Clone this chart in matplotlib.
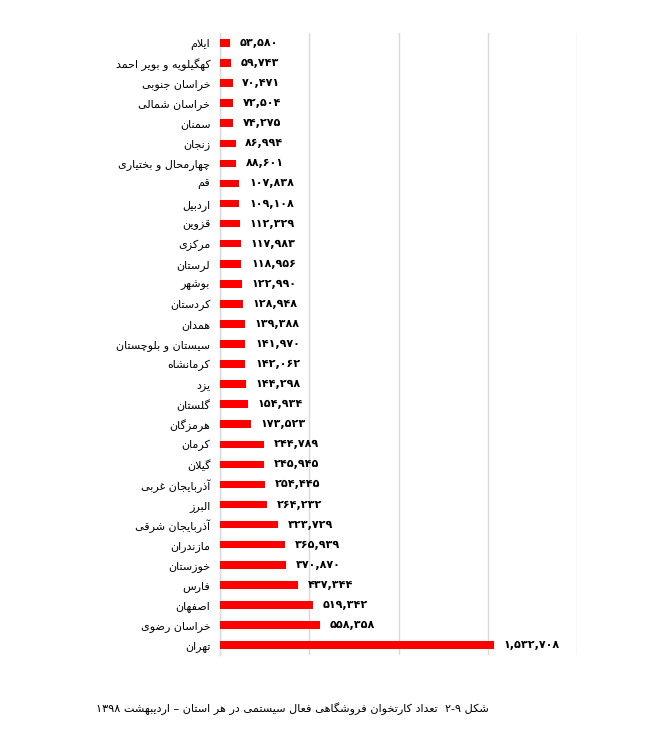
import matplotlib
matplotlib.use("Agg")
import matplotlib.pyplot as plt

provinces = [
    "ایلام", "کهگیلویه و بویر احمد", "خراسان جنوبی", "خراسان شمالی", "سمنان",
    "زنجان", "چهارمحال و بختیاری", "قم", "اردبیل", "قزوین", "مرکزی", "لرستان",
    "بوشهر", "کردستان", "همدان", "سیستان و بلوچستان", "کرمانشاه", "یزد",
    "گلستان", "هرمزگان", "کرمان", "گیلان", "آذربایجان غربی", "البرز",
    "آذربایجان شرقی", "مازندران", "خوزستان", "فارس", "اصفهان", "خراسان رضوی",
    "تهران",
]
values = [
    53580, 59743, 70471, 72504, 74275, 86994, 88601, 107838, 109108, 112329,
    117983, 118956, 122990, 128948, 139388, 141970, 142062, 144298, 154934,
    173523, 244789, 245945, 254445, 264232, 323729, 365939, 370870, 437344,
    519342, 558358, 1532708,
]
x_ticks = [0, 500000, 1000000, 1500000, 2000000]
caption = "شکل ۹-۲  تعداد کارتخوان فروشگاهی فعال سیستمی در هر استان – اردیبهشت ۱۳۹۸"

# ---- minimal Arabic/Persian shaping (isolated, final, initial, medial) ----
F = {
    'ء': (0xFE80, None, None, None),
    'آ': (0xFE81, 0xFE82, None, None),
    'أ': (0xFE83, 0xFE84, None, None),
    'ا': (0xFE8D, 0xFE8E, None, None),
    'ب': (0xFE8F, 0xFE90, 0xFE91, 0xFE92),
    'ة': (0xFE93, 0xFE94, None, None),
    'ت': (0xFE95, 0xFE96, 0xFE97, 0xFE98),
    'ث': (0xFE99, 0xFE9A, 0xFE9B, 0xFE9C),
    'ج': (0xFE9D, 0xFE9E, 0xFE9F, 0xFEA0),
    'ح': (0xFEA1, 0xFEA2, 0xFEA3, 0xFEA4),
    'خ': (0xFEA5, 0xFEA6, 0xFEA7, 0xFEA8),
    'د': (0xFEA9, 0xFEAA, None, None),
    'ذ': (0xFEAB, 0xFEAC, None, None),
    'ر': (0xFEAD, 0xFEAE, None, None),
    'ز': (0xFEAF, 0xFEB0, None, None),
    'س': (0xFEB1, 0xFEB2, 0xFEB3, 0xFEB4),
    'ش': (0xFEB5, 0xFEB6, 0xFEB7, 0xFEB8),
    'ص': (0xFEB9, 0xFEBA, 0xFEBB, 0xFEBC),
    'ض': (0xFEBD, 0xFEBE, 0xFEBF, 0xFEC0),
    'ط': (0xFEC1, 0xFEC2, 0xFEC3, 0xFEC4),
    'ظ': (0xFEC5, 0xFEC6, 0xFEC7, 0xFEC8),
    'ع': (0xFEC9, 0xFECA, 0xFECB, 0xFECC),
    'غ': (0xFECD, 0xFECE, 0xFECF, 0xFED0),
    'ف': (0xFED1, 0xFED2, 0xFED3, 0xFED4),
    'ق': (0xFED5, 0xFED6, 0xFED7, 0xFED8),
    'ك': (0xFED9, 0xFEDA, 0xFEDB, 0xFEDC),
    'ل': (0xFEDD, 0xFEDE, 0xFEDF, 0xFEE0),
    'م': (0xFEE1, 0xFEE2, 0xFEE3, 0xFEE4),
    'ن': (0xFEE5, 0xFEE6, 0xFEE7, 0xFEE8),
    'ه': (0xFEE9, 0xFEEA, 0xFEEB, 0xFEEC),
    'و': (0xFEED, 0xFEEE, None, None),
    'ى': (0xFEEF, 0xFEF0, None, None),
    'ي': (0xFEF1, 0xFEF2, 0xFEF3, 0xFEF4),
    'پ': (0xFB56, 0xFB57, 0xFB58, 0xFB59),
    'چ': (0xFB7A, 0xFB7B, 0xFB7C, 0xFB7D),
    'ژ': (0xFB8A, 0xFB8B, None, None),
    'ک': (0xFB8E, 0xFB8F, 0xFB90, 0xFB91),
    'گ': (0xFB92, 0xFB93, 0xFB94, 0xFB95),
    'ی': (0xFBFC, 0xFBFD, 0xFBFE, 0xFBFF),
}
LAMALEF = {'ا': (0xFEFB, 0xFEFC), 'آ': (0xFEF5, 0xFEF6), 'أ': (0xFEF7, 0xFEF8)}


def dual(c):
    return c in F and F[c][2] is not None


def shape(s):
    out = []
    i = 0
    n = len(s)
    while i < n:
        c = s[i]
        if c not in F:
            out.append(c)
            i += 1
            continue
        prev = s[i - 1] if i > 0 else ''
        jp = dual(prev)
        if c == 'ل' and i + 1 < n and s[i + 1] in LAMALEF:
            iso, fin = LAMALEF[s[i + 1]]
            out.append(chr(fin if jp else iso))
            i += 2
            continue
        nxt = s[i + 1] if i + 1 < n else ''
        jn = dual(c) and nxt in F
        iso, fin, ini, med = F[c]
        if jp and jn:
            out.append(chr(med))
        elif jp:
            out.append(chr(fin))
        elif jn:
            out.append(chr(ini))
        else:
            out.append(chr(iso))
        i += 1
    return ''.join(out)


DIG = set('۰۱۲۳۴۵۶۷۸۹0123456789')


def rtl(s):
    sh = shape(s)
    runs = []
    i = 0
    while i < len(sh):
        if sh[i] in DIG:
            j = i
            while j < len(sh) and (sh[j] in DIG or (sh[j] in ',.٬' and j + 1 < len(sh) and sh[j + 1] in DIG)):
                j += 1
            runs.append(sh[i:j])
            i = j
        else:
            j = i
            while j < len(sh) and sh[j] not in DIG:
                j += 1
            runs.append(sh[i:j][::-1])
            i = j
    return ''.join(runs[::-1])


PD = str.maketrans('0123456789', '۰۱۲۳۴۵۶۷۸۹')


def fa_num(v):
    return f"{v:,}".translate(PD)


plt.rcParams['font.family'] = ['DejaVu Sans']

fig = plt.figure(figsize=(6.49, 7.33), dpi=100)
ax = fig.add_axes([220 / 649, 1 - 655 / 733, 357 / 649, 622 / 733])

ypos = list(range(len(provinces)))
ax.barh(ypos, values, height=0.38, color='#ff0000', zorder=3)
ax.set_xlim(0, 2000000)
ax.set_ylim(len(provinces) - 0.5, -0.5)
ax.set_xticks(x_ticks)
ax.xaxis.grid(True, color='#d9d9d9', linewidth=1.0, zorder=0)
ax.tick_params(axis='x', length=0, labelbottom=False)
ax.tick_params(axis='y', length=0, pad=7)
ax.set_yticks(ypos)
ax.set_yticklabels([rtl(p) for p in provinces], fontsize=8, color='#000000')
for sp in ['top', 'right', 'bottom']:
    ax.spines[sp].set_visible(False)
ax.spines['left'].set_color('#d9d9d9')
ax.spines['left'].set_linewidth(1.0)

for y, v in zip(ypos, values):
    ax.annotate(fa_num(v), xy=(v, y), xytext=(7, 0), textcoords='offset points',
                ha='left', va='center', fontsize=8, fontweight='bold', color='#000000')

fig.text(292 / 649, 1 - 709 / 733, rtl(caption), ha='center', va='center', fontsize=8.1, color='#000000')

fig.savefig('out.png', dpi=100, facecolor='white')
